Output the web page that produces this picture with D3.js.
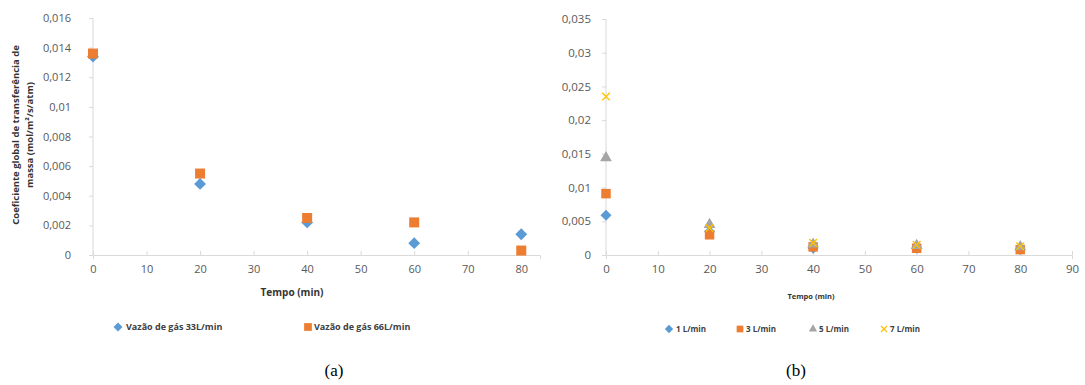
<!DOCTYPE html>
<html>
<head>
<meta charset="utf-8">
<script src="https://cdn.jsdelivr.net/npm/d3@7"></script>
<style>
	body { margin: 0; background: #fff; }
	svg { display: block; }
	.axis path, .axis line { stroke: #d9d9d9; }
	.axis text { fill: #595959; font-family: 'Open Sans', sans-serif; }
</style>
</head>
<body>
<script>
// data
var tempos = [0, 20, 40, 60, 80];

// (a) vazão de gás
var vazao33 = [0.0134, 0.0048, 0.0022, 0.0008, 0.0014];
var vazao66 = [0.0136, 0.0055, 0.0025, 0.0022, 0.0003];
var namesA = ['Vazão de gás 33L/min', 'Vazão de gás 66L/min'];

// (b) vazão de líquido
var vazao1 = [0.0059, 0.0035, 0.0010, 0.0010, 0.0008];
var vazao3 = [0.0091, 0.0030, 0.0012, 0.0010, 0.0008];
var vazao5 = [0.0144, 0.0045, 0.0016, 0.0014, 0.0012];
var vazao7 = [0.0235, 0.0040, 0.0018, 0.0015, 0.0013];
var namesB = ['1 L/min', '3 L/min', '5 L/min', '7 L/min'];

var ticksYA = [0, 0.002, 0.004, 0.006, 0.008, 0.01, 0.012, 0.014, 0.016];
var ticksYB = [0, 0.005, 0.01, 0.015, 0.02, 0.025, 0.03, 0.035];
var ticksXA = [0, 10, 20, 30, 40, 50, 60, 70, 80];
var ticksXB = [0, 10, 20, 30, 40, 50, 60, 70, 80, 90];

var colors = ['#5b9bd5', '#ed7d31', '#a5a5a5', '#ffc000'];

// excel style diamond (square turned 45deg)
var diamond = {
	draw: function (ctx, size) {
		var r = Math.sqrt(size / 2);
		ctx.moveTo(0, -r);
		ctx.lineTo(r, 0);
		ctx.lineTo(0, r);
		ctx.lineTo(-r, 0);
		ctx.closePath();
	}
};
var symbols = [diamond, d3.symbolSquare, d3.symbolTriangle, d3.symbolX];

var fmt = function (d) { return String(d).replace('.', ','); };

var svg = d3.select('body')
	.append('svg')
	.attr('width', 1085)
	.attr('height', 385);

function draw_panel (opt) {
	var x = d3.scaleLinear().domain(opt.xDomain).range(opt.xRange);
	var y = d3.scaleLinear().domain(opt.yDomain).range(opt.yRange);

	var g = svg.append('g');

	g.append('g')
		.attr('class', 'x axis')
		.attr('transform', 'translate(0,' + opt.yRange[0] + ')')
		.call(d3.axisBottom(x).tickValues(opt.xTicks).tickSize(4).tickPadding(6))
		.call(function (a) {
			a.selectAll('text').style('font-size', opt.fs + 'px');
			a.selectAll('.tick line').attr('y1', -4).attr('y2', 0);
		});

	g.append('g')
		.attr('class', 'y axis')
		.attr('transform', 'translate(' + opt.xRange[0] + ',0)')
		.call(d3.axisLeft(y).tickValues(opt.yTicks).tickFormat(fmt).tickSize(4).tickPadding(opt.yPad))
		.call(function (a) {
			a.selectAll('text').style('font-size', opt.fs + 'px');
			a.select('.domain').attr('d', 'M0,' + opt.yRange[0] + 'V' + opt.yRange[1]);
		});

	opt.series.forEach(function (s, i) {
		var sym = d3.symbol().type(symbols[i]).size(s.size);
		g.selectAll('.pt' + i)
			.data(s.values)
			.enter()
			.append('path')
			.attr('d', sym)
			.attr('transform', function (d, j) {
				return 'translate(' + x(tempos[j]) + ',' + y(d) + ')';
			})
			.attr('fill', i === 3 ? 'none' : colors[i])
			.attr('stroke', i === 3 ? colors[i] : 'none')
			.attr('stroke-width', 1.4);
	});

	// x title
	g.append('text')
		.attr('x', opt.xTitle[0])
		.attr('y', opt.xTitle[1])
		.attr('text-anchor', 'middle')
		.style('font-family', "'Open Sans', sans-serif")
		.style('font-weight', 'bold')
		.style('font-size', opt.xTitle[2] + 'px')
		.attr('fill', '#333')
		.text('Tempo (min)');

	// legend
	opt.legend.forEach(function (l, i) {
		var sym = d3.symbol().type(symbols[i]).size(l.size);
		g.append('path')
			.attr('d', sym)
			.attr('transform', 'translate(' + l.x + ',' + l.y + ')')
			.attr('fill', i === 3 ? 'none' : colors[i])
			.attr('stroke', i === 3 ? colors[i] : 'none')
			.attr('stroke-width', 1.2);
		g.append('text')
			.attr('x', l.x + l.dx)
			.attr('y', l.y + 3)
			.style('font-family', "'Open Sans', sans-serif")
			.style('font-weight', 'bold')
			.style('font-size', l.fs + 'px')
			.attr('fill', '#404040')
			.text(l.name);
	});
}

draw_panel({
	xDomain: [0, 83.5], xRange: [93, 540],
	yDomain: [0, 0.016], yRange: [255, 18],
	xTicks: ticksXA, yTicks: ticksYA, fs: 11, yPad: 18,
	series: [
		{ values: vazao33, size: 70 },
		{ values: vazao66, size: 100 }
	],
	xTitle: [292, 296, 10],
	legend: [
		{ name: namesA[0], x: 118, y: 327, dx: 8, fs: 9, size: 40 },
		{ name: namesA[1], x: 308, y: 327, dx: 6, fs: 9, size: 60 }
	]
});

draw_panel({
	xDomain: [0, 90], xRange: [606, 1072],
	yDomain: [0, 0.035], yRange: [255, 19],
	xTicks: ticksXB, yTicks: ticksYB, fs: 11.5, yPad: 11,
	series: [
		{ values: vazao1, size: 60 },
		{ values: vazao3, size: 90 },
		{ values: vazao5, size: 60 },
		{ values: vazao7, size: 40 }
	],
	xTitle: [811, 299, 7.5],
	legend: [
		{ name: namesB[0], x: 669, y: 329, dx: 7, fs: 8, size: 35 },
		{ name: namesB[1], x: 740, y: 329, dx: 6, fs: 8, size: 45 },
		{ name: namesB[2], x: 813, y: 329, dx: 6, fs: 8, size: 30 },
		{ name: namesB[3], x: 884, y: 329, dx: 6, fs: 8, size: 25 }
	]
});

// y title (a)
var yt = svg.append('text')
	.attr('transform', 'translate(0,135) rotate(-90)')
	.attr('text-anchor', 'middle')
	.style('font-family', "'Open Sans', sans-serif")
	.style('font-weight', 'bold')
	.style('font-size', '9.5px')
	.attr('fill', '#333');
yt.append('tspan').attr('x', 0).attr('y', 19).text('Coeficiente global de transferência de');
yt.append('tspan').attr('x', 0).attr('y', 33).text('massa (mol/m²/s/atm)');

// captions
svg.selectAll('.caption')
	.data(['(a)', '(b)'])
	.enter()
	.append('text')
	.attr('class', 'caption')
	.attr('x', function (d, i) { return [334, 796][i]; })
	.attr('y', 376)
	.attr('text-anchor', 'middle')
	.style('font-family', "'Liberation Serif', serif")
	.style('font-size', '17px')
	.attr('fill', '#000')
	.text(function (d) { return d; });
</script>
</body>
</html>
